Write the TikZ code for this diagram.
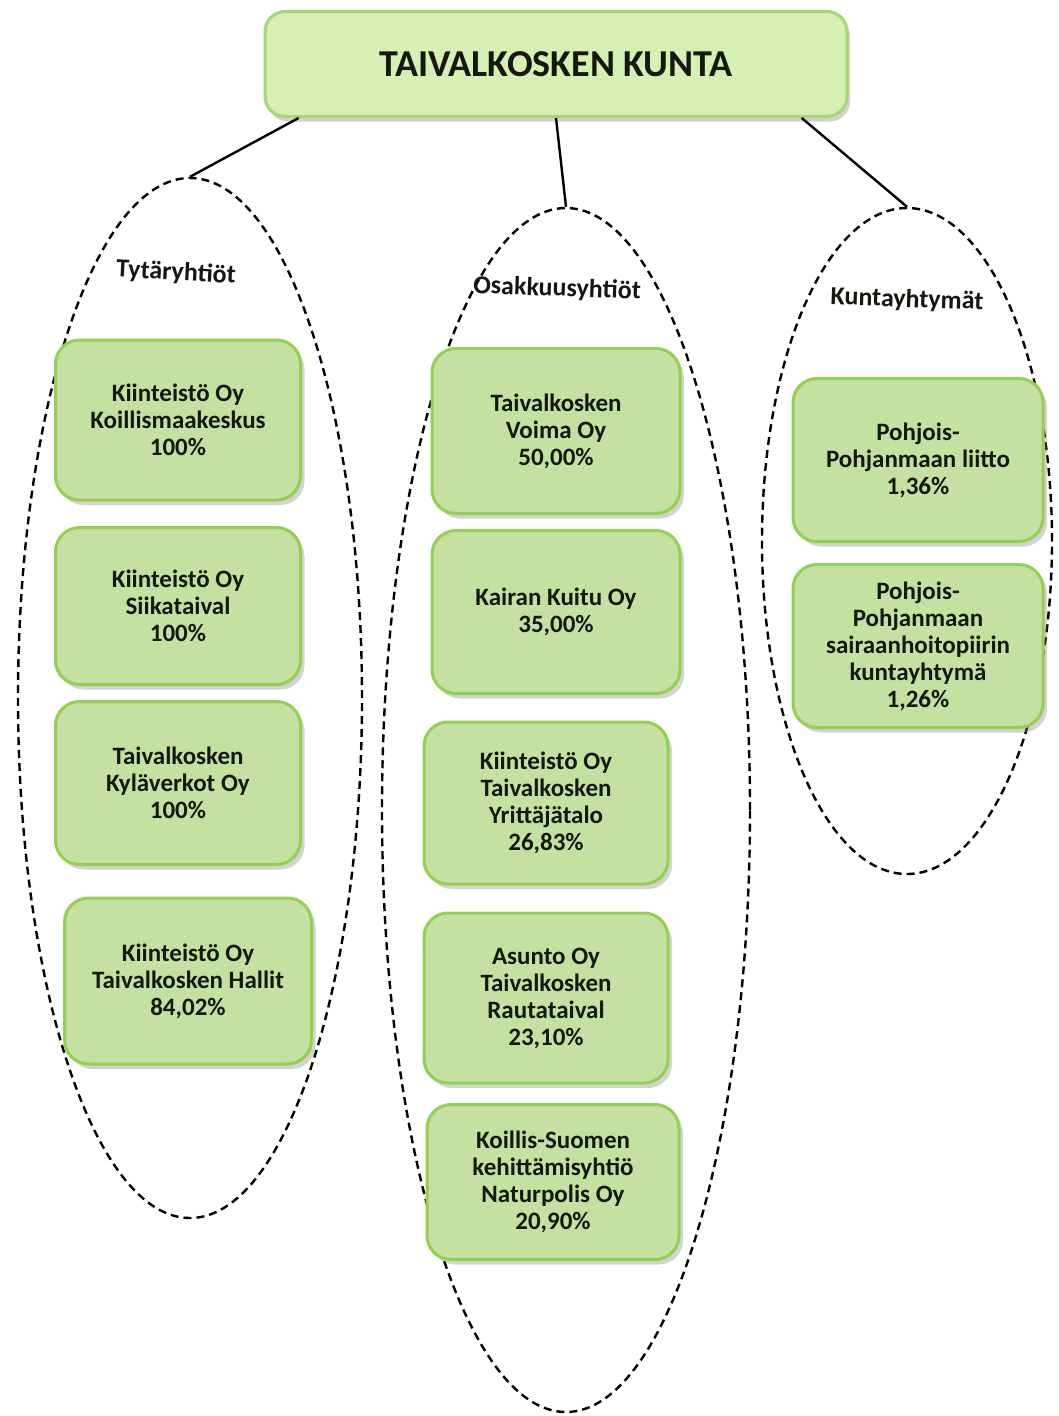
\documentclass[tikz,border=0pt]{standalone}
\usepackage{fontspec}
\setmainfont{Carlito}
\usetikzlibrary{shapes.geometric,shadows,calc}
\definecolor{boxfill}{RGB}{197,225,162}
\definecolor{boxedge}{RGB}{146,208,80}
\definecolor{topfill}{RGB}{214,240,180}
\definecolor{topedge}{RGB}{165,214,120}
\definecolor{inktext}{RGB}{20,24,16}
\begin{document}
\begin{tikzpicture}[x=1pt,y=-1pt,
  orgbox/.style={draw=boxedge, line width=3pt, fill=boxfill, rounded corners=24pt,
    align=center, font=\bfseries\fontsize{25}{27}\selectfont, text=inktext,
    drop shadow={opacity=0.35, shadow xshift=4pt, shadow yshift=-5pt},
    inner sep=3pt},
  topbox/.style={draw=topedge, line width=3pt, fill=topfill, rounded corners=20pt,
    font=\bfseries\fontsize{38}{40}\selectfont, text=inktext,
    minimum width=582pt, minimum height=105pt,
    drop shadow={opacity=0.35, shadow xshift=3pt, shadow yshift=-5pt}},
  group/.style={draw=black, dash pattern=on 8pt off 5pt, line width=2.4pt,
    ellipse, inner sep=0pt},
  grouplabel/.style={font=\bfseries\fontsize{26}{28}\selectfont, text=inktext},
  link/.style={draw=black, line width=2.4pt}
]
\useasboundingbox (0,0) rectangle (1058,1416);

% groups
\node[group, minimum width=344pt, minimum height=1040pt] (g1) at (190,698) {};
\node[group, minimum width=368pt, minimum height=1204pt] (g2) at (566,810) {};
\node[group, minimum width=290pt, minimum height=666pt] (g3) at (907,541) {};

% top
\node[topbox] (top) at (556,64) {TAIVALKOSKEN KUNTA};

\draw[link] ($(top.south west)!0.06!(top.south east)$) -- (g1.north);
\draw[link] ($(top.south west)!0.5!(top.south east)$) -- (g2.north);
\draw[link] ($(top.south west)!0.92!(top.south east)$) -- (g3.north);

% labels
\node[grouplabel, rotate=-3] (l1) at (176,273) {Tytäryhtiöt};
\node[grouplabel, rotate=-2] (l2) at (557,289) {Osakkuusyhtiöt};
\node[grouplabel, rotate=-2] (l3) at (907,300) {Kuntayhtymät};

% left column
\node[orgbox, minimum width=245pt, minimum height=160pt] (a1) at (178,420) {Kiinteistö Oy\\Koillismaakeskus\\100\%};
\node[orgbox, minimum width=245pt, minimum height=157pt] (a2) at (178,606) {Kiinteistö Oy\\Siikataival\\100\%};
\node[orgbox, minimum width=245pt, minimum height=163pt] (a3) at (178,783) {Taivalkosken\\Kyläverkot Oy\\100\%};
\node[orgbox, minimum width=247pt, minimum height=166pt] (a4) at (188,981) {Kiinteistö Oy\\Taivalkosken Hallit\\84,02\%};

% middle column
\node[orgbox, minimum width=248pt, minimum height=165pt] (b1) at (556,431) {Taivalkosken\\Voima Oy\\50,00\%};
\node[orgbox, minimum width=248pt, minimum height=163pt] (b2) at (556,612) {Kairan Kuitu Oy\\35,00\%};
\node[orgbox, minimum width=244pt, minimum height=162pt] (b3) at (546,803) {Kiinteistö Oy\\Taivalkosken\\Yrittäjätalo\\26,83\%};
\node[orgbox, minimum width=244pt, minimum height=170pt] (b4) at (546,998) {Asunto Oy\\Taivalkosken\\Rautataival\\23,10\%};
\node[orgbox, minimum width=252pt, minimum height=155pt] (b5) at (553,1182) {Koillis-Suomen\\kehittämisyhtiö\\Naturpolis Oy\\20,90\%};

% right column
\node[orgbox, minimum width=250pt, minimum height=163pt] (c1) at (918,460) {Pohjois-\\Pohjanmaan liitto\\1,36\%};
\node[orgbox, minimum width=250pt, minimum height=163pt] (c2) at (918,646) {Pohjois-\\Pohjanmaan\\sairaanhoitopiirin\\kuntayhtymä\\1,26\%};
\end{tikzpicture}
\end{document}
